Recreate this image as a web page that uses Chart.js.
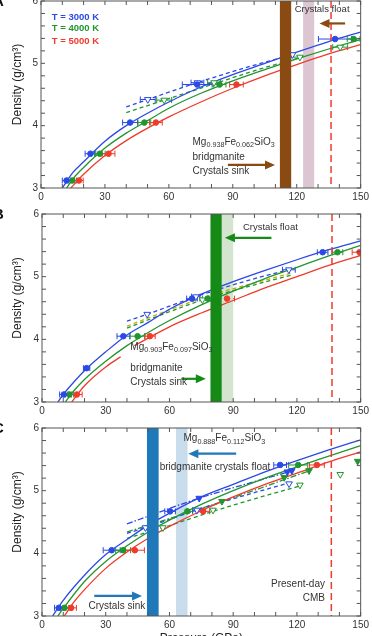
<!DOCTYPE html>
<html>
<head>
<meta charset="utf-8">
<script src="https://cdn.jsdelivr.net/npm/chart.js@4.4.1/dist/chart.umd.min.js"></script>
<style>
  html, body { margin: 0; padding: 0; background: #fff; width: 372px; height: 636px; overflow: hidden; position: relative; }
  canvas { position: absolute; left: 0; }
</style>
</head>
<body>
<canvas id="chartA"></canvas>
<canvas id="chartB"></canvas>
<canvas id="chartC"></canvas>
<script>
// ====== Axes ======
const pressureTicks = [0, 10, 20, 30, 40, 50, 60, 70, 80, 90, 100, 110, 120, 130, 140, 150];
const pressureLabels = [0, 30, 60, 90, 120, 150];
const densityTicks = [3, 3.2, 3.4, 3.6, 3.8, 4, 4.2, 4.4, 4.6, 4.8, 5, 5.2, 5.4, 5.6, 5.8, 6];
const densityLabels = [3, 4, 5, 6];

// ====== Panel A (Mg0.938Fe0.062SiO3) ======
const aBlueP = [12, 23.2, 41.8, 73.3, 138];
const aBlueRho = [3.12, 3.55, 4.05, 4.66, 5.39];
const aBlueErr = [2, 2.5, 3.5, 7, 7.8];
const aGreenP = [14.7, 27.6, 48.5, 83.8, 146.7];
const aGreenRho = [3.12, 3.55, 4.05, 4.66, 5.39];
const aGreenErr = [2, 2.5, 3, 3, 3];
const aRedP = [17.8, 31.7, 53.9, 91.7];
const aRedRho = [3.12, 3.55, 4.05, 4.66];
const aRedErr = [2, 3, 3, 3.2];
const aBlueOpenP = [50.1, 73.4, 118];
const aBlueOpenRho = [4.42, 4.69, 5.14];
const aBlueOpenErr = [3.5, 3, 0];
const aGreenOpenP = [57.8, 81.2, 121.5, 140.4];
const aGreenOpenRho = [4.41, 4.69, 5.1, 5.26];
const aGreenOpenErr = [3.5, 3, 4.3, 3.5];
const aBlueFitP = [10, 15, 20, 30, 40, 50, 60, 75, 90, 105, 120, 135, 150];
const aBlueFitRho = [3.0, 3.25, 3.42, 3.75, 4.0, 4.2, 4.38, 4.62, 4.82, 5.0, 5.18, 5.35, 5.5];
const aGreenFitP = [12, 15, 20, 30, 40, 50, 60, 75, 90, 105, 120, 135, 150];
const aGreenFitRho = [3.0, 3.15, 3.33, 3.64, 3.88, 4.08, 4.28, 4.52, 4.72, 4.9, 5.07, 5.23, 5.38];
const aRedFitP = [14, 20, 30, 40, 50, 60, 75, 90, 105, 120, 135, 150];
const aRedFitRho = [3.0, 3.22, 3.52, 3.76, 3.96, 4.14, 4.38, 4.6, 4.8, 4.98, 5.15, 5.3];
const aBlueDashP = [40, 50.1, 73.4, 95, 118];
const aBlueDashRho = [4.30, 4.42, 4.69, 4.92, 5.14];
const aGreenDashP = [40, 57.8, 81.2, 100, 121.5];
const aGreenDashRho = [4.21, 4.41, 4.67, 4.88, 5.09];

// ====== Panel B (Mg0.903Fe0.097SiO3) ======
const bBlueP = [10.3, 21.0, 38.3, 70.6, 132.1];
const bBlueRho = [3.12, 3.54, 4.05, 4.65, 5.39];
const bBlueErr = [2, 1.5, 3, 2.5, 2.5];
const bGreenP = [12.9, 45.0, 78.0, 139.1];
const bGreenRho = [3.12, 4.05, 4.65, 5.39];
const bGreenErr = [2, 3.5, 2.5, 2.5];
const bRedP = [16.4, 50.8, 87.1, 149.5];
const bRedRho = [3.12, 4.05, 4.65, 5.39];
const bRedErr = [2.5, 2.5, 3.5, 3.5];
const bBlueOpenP = [49.5, 72.4, 116.2];
const bBlueOpenRho = [4.40, 4.68, 5.11];
const bBlueOpenErr = [0, 2, 3];
const bGreenOpenP = [75.5];
const bGreenOpenRho = [4.63];
const bBlueFitP = [7.5, 10, 15, 20, 30, 40, 50, 60, 75, 90, 105, 120, 135, 150];
const bBlueFitRho = [3.0, 3.12, 3.32, 3.5, 3.8, 4.07, 4.27, 4.48, 4.72, 4.92, 5.1, 5.27, 5.43, 5.57];
const bGreenFitP = [11, 15, 20, 30, 40, 50, 60, 75, 90, 105, 120, 135, 150];
const bGreenFitRho = [3.0, 3.18, 3.36, 3.65, 3.9, 4.11, 4.3, 4.55, 4.77, 4.97, 5.15, 5.33, 5.5];
const bRedLowP = [14, 20, 30, 37];
const bRedLowRho = [3.0, 3.26, 3.56, 3.72];
const bRedHighP = [43.5, 50, 60, 75, 90, 105, 120, 135, 150];
const bRedHighRho = [3.9, 4.02, 4.2, 4.42, 4.62, 4.82, 5.0, 5.18, 5.34];
const bBlueDashP = [40, 49.5, 72.4, 95, 118];
const bBlueDashRho = [4.29, 4.40, 4.68, 4.92, 5.13];
const bYellowDashP = [40, 60, 80, 100, 118];
const bYellowDashRho = [4.21, 4.47, 4.71, 4.9, 5.06];
const bGreenDashP = [40, 60, 80, 100, 118];
const bGreenDashRho = [4.18, 4.44, 4.68, 4.87, 5.03];

// ====== Panel C (Mg0.888Fe0.112SiO3) ======
const cBlueP = [7.9, 32.8, 60.3, 112.1];
const cBlueRho = [3.13, 4.05, 4.67, 5.41];
const cBlueErr = [2, 4, 2.5, 3];
const cGreenP = [10.6, 38.2, 68.4, 120.6];
const cGreenRho = [3.13, 4.05, 4.67, 5.41];
const cGreenErr = [2, 3.5, 2.5, 4.5];
const cRedP = [13.7, 43.7, 75.9, 129.4];
const cRedRho = [3.13, 4.05, 4.67, 5.41];
const cRedErr = [2.5, 4.5, 3, 3.5];
const cBlueTriP = [74, 115.5, 117.6];
const cBlueTriRho = [4.88, 5.30, 5.32];
const cGreenTriP = [84.7, 114, 125.7, 148.6];
const cGreenTriRho = [4.83, 5.21, 5.32, 5.47];
const cBlueOpenP = [48.7, 72.9, 116.3];
const cBlueOpenRho = [4.41, 4.69, 5.11];
const cBlueOpenErr = [0, 2, 0];
const cGreenOpenP = [56.9, 80.5, 121.4, 140.4];
const cGreenOpenRho = [4.41, 4.69, 5.09, 5.26];
const cBlueFitP = [5, 10, 20, 30, 40, 50, 60, 75, 90, 105, 120, 135, 150];
const cBlueFitRho = [3.0, 3.25, 3.65, 3.98, 4.22, 4.45, 4.64, 4.9, 5.1, 5.3, 5.48, 5.65, 5.81];
const cGreenFitP = [7.5, 10, 20, 30, 40, 50, 60, 75, 90, 105, 120, 135, 150];
const cGreenFitRho = [3.0, 3.12, 3.55, 3.87, 4.12, 4.34, 4.53, 4.78, 5.0, 5.2, 5.38, 5.55, 5.72];
const cRedFitP = [10.5, 15, 20, 30, 40, 50, 60, 75, 90, 105, 120, 135, 150];
const cRedFitRho = [3.0, 3.22, 3.42, 3.76, 4.02, 4.24, 4.43, 4.68, 4.9, 5.1, 5.28, 5.46, 5.62];
const cBlueDashP = [40, 48.7, 72.9, 95, 117];
const cBlueDashRho = [4.32, 4.41, 4.69, 4.92, 5.13];
const cGreenDashP = [40, 56.9, 80.5, 100, 122];
const cGreenDashRho = [4.24, 4.41, 4.67, 4.87, 5.08];
const cBlueDotDashP = [40, 74, 118];
const cBlueDotDashRho = [4.47, 4.88, 5.32];
const cGreenDotDashP = [40, 85, 126];
const cGreenDotDashRho = [4.34, 4.83, 5.32];

// ====== Colours & fonts ======
const BLUE = '#2a49e6';
const GREEN = '#22962e';
const RED = '#ee3b2c';
const YELLOW = '#c4b000';
const TEXT = '#333';
const FONT = '"Liberation Sans", Arial, sans-serif';
Chart.defaults.font.family = FONT;

const pts = (xs, ys) => xs.map((x, i) => ({ x: x, y: ys[i] }));

function curve(xs, ys, color, dash) {
  return {
    data: pts(xs, ys), showLine: true, borderColor: color, borderWidth: 1.3,
    borderDash: dash || [], pointRadius: 0, cubicInterpolationMode: 'monotone',
    fill: false, order: 2
  };
}
function dots(xs, ys, err, color) {
  return {
    data: pts(xs, ys), errX: err, showLine: false, pointStyle: 'circle', pointRadius: 2.8,
    backgroundColor: color, borderColor: color, borderWidth: 1, order: 0
  };
}
function tris(xs, ys, err, color, open) {
  return {
    data: pts(xs, ys), errX: err, showLine: false, pointStyle: 'triangle', pointRotation: 180,
    pointRadius: 3.8, backgroundColor: open ? '#fff' : color, borderColor: color,
    borderWidth: 1, order: 0
  };
}

// ====== Horizontal error bars ======
const errorBars = {
  id: 'errorBars',
  beforeDatasetsDraw(chart) {
    const { ctx, chartArea: a, scales: { x, y } } = chart;
    ctx.save();
    ctx.beginPath(); ctx.rect(a.left, a.top, a.width, a.height); ctx.clip();
    chart.data.datasets.forEach(ds => {
      if (!ds.errX) return;
      ctx.strokeStyle = ds.borderColor; ctx.lineWidth = 1;
      ds.data.forEach((p, i) => {
        const e = ds.errX[i];
        if (!e) return;
        const x0 = x.getPixelForValue(p.x - e), x1 = x.getPixelForValue(p.x + e), py = y.getPixelForValue(p.y);
        ctx.beginPath();
        ctx.moveTo(x0, py); ctx.lineTo(x1, py);
        ctx.moveTo(x0, py - 3); ctx.lineTo(x0, py + 3);
        ctx.moveTo(x1, py - 3); ctx.lineTo(x1, py + 3);
        ctx.stroke();
      });
    });
    ctx.restore();
  }
};

function arrow(ctx, x0, x1, y, color) {
  const dir = Math.sign(x1 - x0);
  ctx.strokeStyle = color; ctx.fillStyle = color; ctx.lineWidth = 2.2;
  ctx.beginPath(); ctx.moveTo(x0, y); ctx.lineTo(x1 - dir * 6, y); ctx.stroke();
  ctx.beginPath(); ctx.moveTo(x1, y); ctx.lineTo(x1 - dir * 10, y - 4.5); ctx.lineTo(x1 - dir * 10, y + 4.5); ctx.closePath(); ctx.fill();
}

function richText(ctx, parts, x, y, size) {
  let cx = x;
  parts.forEach(([t, sub]) => {
    ctx.font = (sub ? size * 0.72 : size) + 'px ' + FONT;
    ctx.fillText(t, cx, sub ? y + size * 0.3 : y);
    cx += ctx.measureText(t).width;
  });
}

// ====== Bands, labels, frame ======
function makeDecor(d) {
  return {
    id: 'decor',
    beforeDatasetsDraw(chart) {
      const { ctx, chartArea: a, scales: { x } } = chart;
      ctx.save();
      d.bands.filter(b => !b.top).forEach(b => {
        const x0 = x.getPixelForValue(b.from), x1 = x.getPixelForValue(b.to);
        ctx.fillStyle = b.color; ctx.fillRect(x0, a.top, x1 - x0, a.height);
      });
      ctx.restore();
    },
    afterDatasetsDraw(chart) {
      const { ctx, chartArea: a, scales: { x, y } } = chart;
      ctx.save();
      d.bands.filter(b => b.top).forEach(b => {
        const x0 = x.getPixelForValue(b.from), x1 = x.getPixelForValue(b.to);
        ctx.fillStyle = b.color; ctx.fillRect(x0, a.top, x1 - x0, a.height);
      });
      // present-day CMB
      const cx = x.getPixelForValue(d.cmb);
      ctx.strokeStyle = RED; ctx.lineWidth = 1.5; ctx.setLineDash([7, 4]);
      ctx.beginPath(); ctx.moveTo(cx, a.top); ctx.lineTo(cx, a.bottom); ctx.stroke();
      ctx.setLineDash([]);
      d.arrows.forEach(r => arrow(ctx, x.getPixelForValue(r.from), x.getPixelForValue(r.to), y.getPixelForValue(r.y), r.color));
      ctx.textBaseline = 'middle';
      d.texts.forEach(t => {
        ctx.font = (t.bold ? 'bold ' : '') + (t.size || 9.5) + 'px ' + FONT;
        ctx.fillStyle = t.color || TEXT; ctx.textAlign = t.align || 'left';
        ctx.fillText(t.t, x.getPixelForValue(t.x), y.getPixelForValue(t.y));
      });
      ctx.textAlign = 'left'; ctx.fillStyle = TEXT;
      richText(ctx, d.formula.parts, x.getPixelForValue(d.formula.x), y.getPixelForValue(d.formula.y), 10);
      ctx.restore();
    },
    afterDraw(chart) {
      const { ctx, chartArea: a, scales: { x, y } } = chart;
      ctx.save();
      ctx.strokeStyle = '#555'; ctx.lineWidth = 1;
      ctx.strokeRect(a.left, a.top, a.width, a.height);
      ctx.beginPath();
      pressureTicks.forEach(v => {
        const px = x.getPixelForValue(v);
        ctx.moveTo(px, a.bottom); ctx.lineTo(px, a.bottom - 4);
        ctx.moveTo(px, a.top); ctx.lineTo(px, a.top + 4);
      });
      densityTicks.forEach(v => {
        const py = y.getPixelForValue(v);
        ctx.moveTo(a.left, py); ctx.lineTo(a.left + 4, py);
        ctx.moveTo(a.right, py); ctx.lineTo(a.right - 4, py);
      });
      ctx.stroke();
      // y title
      ctx.fillStyle = '#222'; ctx.font = '12px ' + FONT;
      ctx.textAlign = 'center'; ctx.textBaseline = 'middle';
      ctx.save();
      ctx.translate(18, (a.top + a.bottom) / 2 - 10);
      ctx.rotate(-Math.PI / 2);
      ctx.fillText('Density (g/cm³)', 0, 0);
      ctx.restore();
      if (d.xTitle) ctx.fillText('Pressure (GPa)', (a.left + a.right) / 2, a.bottom + 23);
      // panel letter
      ctx.font = 'bold 15px ' + FONT; ctx.textAlign = 'left'; ctx.textBaseline = 'alphabetic';
      ctx.fillStyle = '#111';
      ctx.fillText(d.letter, -7, a.top + 5);
      ctx.restore();
    }
  };
}

function panel(id, top, height, pad, yWidth, datasets, decor) {
  const canvas = document.getElementById(id);
  canvas.style.top = top + 'px';
  canvas.width = 372;
  canvas.height = height;
  return new Chart(canvas, {
    type: 'scatter',
    data: { datasets: datasets },
    options: {
      responsive: false, animation: false, devicePixelRatio: 1,
      layout: { padding: pad },
      plugins: { legend: { display: false }, tooltip: { enabled: false } },
      scales: {
        x: {
          type: 'linear', min: 0, max: 150,
          afterFit: s => { s.height = 22; },
          afterBuildTicks: s => { s.ticks = pressureTicks.map(v => ({ value: v })); },
          grid: { display: false, drawTicks: false }, border: { display: false },
          ticks: { autoSkip: false, maxRotation: 0, padding: 3, color: TEXT, font: { size: 10 },
            callback: v => pressureLabels.includes(v) ? String(v) : '' }
        },
        y: {
          type: 'linear', min: 3, max: 6,
          afterFit: s => { s.width = yWidth; },
          afterBuildTicks: s => { s.ticks = densityTicks.map(v => ({ value: v })); },
          grid: { display: false, drawTicks: false }, border: { display: false },
          ticks: { autoSkip: false, padding: 3, color: TEXT, font: { size: 10 },
            callback: v => densityLabels.includes(v) ? String(v) : '' }
        }
      }
    },
    plugins: [errorBars, makeDecor(decor)]
  });
}

// ====== Panel A ======
panel('chartA', -8, 218, { top: 8, right: 8, bottom: 0, left: 0 }, 41, [
  dots(aBlueP, aBlueRho, aBlueErr, BLUE),
  dots(aGreenP, aGreenRho, aGreenErr, GREEN),
  dots(aRedP, aRedRho, aRedErr, RED),
  tris(aBlueOpenP, aBlueOpenRho, aBlueOpenErr, BLUE, true),
  tris(aGreenOpenP, aGreenOpenRho, aGreenOpenErr, GREEN, true),
  curve(aBlueFitP, aBlueFitRho, BLUE),
  curve(aGreenFitP, aGreenFitRho, GREEN),
  curve(aRedFitP, aRedFitRho, RED),
  curve(aBlueDashP, aBlueDashRho, BLUE, [4, 3]),
  curve(aGreenDashP, aGreenDashRho, GREEN, [4, 3])
], {
  letter: 'A',
  bands: [{ from: 123, to: 128.2, color: '#dcc6d2' }, { from: 112.1, to: 117.4, color: '#8a4b12', top: true }],
  cmb: 136.1,
  arrows: [{ from: 142.7, to: 130.7, y: 5.64, color: '#8a4b12' }, { from: 87.7, to: 109.8, y: 3.37, color: '#8a4b12' }],
  texts: [
    { t: 'T = 3000 K', x: 5.1, y: 5.745, color: BLUE, bold: true },
    { t: 'T = 4000 K', x: 5.1, y: 5.553, color: GREEN, bold: true },
    { t: 'T = 5000 K', x: 5.1, y: 5.346, color: RED, bold: true },
    { t: 'Crystals float', x: 131.9, y: 5.87, align: 'center' },
    { t: 'bridgmanite', x: 71.1, y: 3.50, size: 10 },
    { t: 'Crystals sink', x: 71.1, y: 3.27, size: 10 }
  ],
  formula: { x: 71.1, y: 3.74, parts: [['Mg'], ['0.938', 1], ['Fe'], ['0.062', 1], ['SiO'], ['3', 1]] }
});

// ====== Panel B ======
panel('chartB', 205, 219, { top: 8, right: 9, bottom: 0, left: 0 }, 42, [
  dots(bBlueP, bBlueRho, bBlueErr, BLUE),
  dots(bGreenP, bGreenRho, bGreenErr, GREEN),
  dots(bRedP, bRedRho, bRedErr, RED),
  tris(bBlueOpenP, bBlueOpenRho, bBlueOpenErr, BLUE, true),
  tris(bGreenOpenP, bGreenOpenRho, [0], GREEN, true),
  curve(bBlueFitP, bBlueFitRho, BLUE),
  curve(bGreenFitP, bGreenFitRho, GREEN),
  curve(bRedLowP, bRedLowRho, RED),
  curve(bRedHighP, bRedHighRho, RED),
  curve(bBlueDashP, bBlueDashRho, BLUE, [4, 3]),
  curve(bYellowDashP, bYellowDashRho, YELLOW, [4, 3]),
  curve(bGreenDashP, bGreenDashRho, GREEN, [4, 3])
], {
  letter: 'B',
  bands: [{ from: 84.6, to: 90, color: '#d3e4cf' }, { from: 79.3, to: 84.6, color: '#168a16', top: true }],
  cmb: 136.5,
  arrows: [{ from: 108, to: 86.1, y: 5.62, color: '#168a16' }, { from: 65.6, to: 77.1, y: 3.37, color: '#168a16' }],
  texts: [
    { t: 'Crystals float', x: 107.5, y: 5.78, align: 'center' },
    { t: 'bridgmanite', x: 41.6, y: 3.54, size: 10 },
    { t: 'Crystals sink', x: 41.6, y: 3.31, size: 10 }
  ],
  formula: { x: 41.6, y: 3.88, parts: [['Mg'], ['0.903', 1], ['Fe'], ['0.097', 1], ['SiO'], ['3', 1]] }
});

// ====== Panel C ======
panel('chartC', 419, 240, { top: 8, right: 8, bottom: 21, left: 0 }, 42, [
  dots(cBlueP, cBlueRho, cBlueErr, BLUE),
  dots(cGreenP, cGreenRho, cGreenErr, GREEN),
  dots(cRedP, cRedRho, cRedErr, RED),
  tris(cBlueTriP, cBlueTriRho, null, BLUE, false),
  tris(cGreenTriP, cGreenTriRho, null, GREEN, false),
  tris(cBlueOpenP, cBlueOpenRho, cBlueOpenErr, BLUE, true),
  tris(cGreenOpenP, cGreenOpenRho, null, GREEN, true),
  curve(cBlueFitP, cBlueFitRho, BLUE),
  curve(cGreenFitP, cGreenFitRho, GREEN),
  curve(cRedFitP, cRedFitRho, RED),
  curve(cBlueDashP, cBlueDashRho, BLUE, [4, 3]),
  curve(cGreenDashP, cGreenDashRho, GREEN, [4, 3]),
  curve(cBlueDotDashP, cBlueDotDashRho, BLUE, [6, 2, 1.5, 2]),
  curve(cGreenDotDashP, cGreenDotDashRho, GREEN, [6, 2, 1.5, 2])
], {
  letter: 'C',
  xTitle: true,
  bands: [{ from: 63.1, to: 68.5, color: '#c9dcec' }, { from: 49.4, to: 54.9, color: '#1f78b8', top: true }],
  cmb: 136.2,
  arrows: [{ from: 91.4, to: 68.9, y: 5.59, color: '#1f78b8' }, { from: 24.6, to: 47.1, y: 3.32, color: '#1f78b8' }],
  texts: [
    { t: 'bridgmanite crystals float', x: 55.4, y: 5.38, size: 10 },
    { t: 'Crystals sink', x: 21.9, y: 3.16, size: 10 },
    { t: 'Present-day', x: 133.2, y: 3.51, size: 10, align: 'right' },
    { t: 'CMB', x: 133.2, y: 3.29, size: 10, align: 'right' }
  ],
  formula: { x: 66.6, y: 5.83, parts: [['Mg'], ['0.888', 1], ['Fe'], ['0.112', 1], ['SiO'], ['3', 1]] }
});
</script>
</body>
</html>
